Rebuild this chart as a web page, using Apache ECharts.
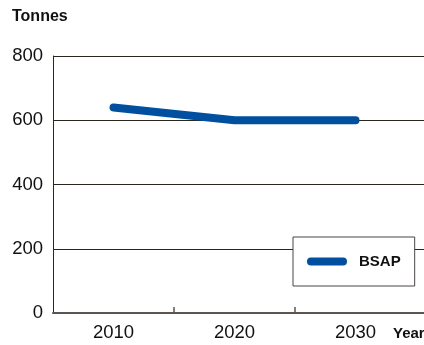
<!DOCTYPE html>
<html>
<head>
<meta charset="utf-8">
<script src="https://cdn.jsdelivr.net/npm/echarts@6/dist/echarts.min.js"></script>
<style>
html,body{margin:0;padding:0;background:#fff;}
#chart{width:424px;height:345px;}
</style>
</head>
<body>
<div id="chart"></div>
<script>
var years = [2010, 2020, 2030];
var bsap = [640, 600, 600];
var yTicks = [0, 200, 400, 600, 800];
var seriesName = 'BSAP';
var yTitle = 'Tonnes';
var xTitle = 'Year';

var chart = echarts.init(document.getElementById('chart'), null, {renderer: 'canvas'});
var font = '"Liberation Sans", Arial, Helvetica, sans-serif';
var option = {
  animation: false,
  backgroundColor: '#ffffff',
  grid: {left: 53, right: 0, top: 56, bottom: 32, containLabel: false},
  xAxis: {
    type: 'value',
    min: 2005,
    max: 2035.66,
    splitLine: {show: false},
    axisLine: {show: true, lineStyle: {color: '#5a5550', width: 2}},
    axisTick: {show: true, inside: true, length: 6, customValues: [2015, 2025], lineStyle: {color: '#5a5550', width: 1.5}},
    axisLabel: {
      customValues: years,
      formatter: function (v) { return String(v); },
      color: '#111', fontSize: 18.5, fontFamily: font, margin: 10
    }
  },
  yAxis: {
    type: 'value',
    min: yTicks[0],
    max: yTicks[yTicks.length - 1],
    interval: 200,
    axisLine: {show: true, lineStyle: {color: '#2b2520', width: 1}},
    axisTick: {show: false},
    splitLine: {show: true, lineStyle: {color: '#2b2520', width: 1}},
    axisLabel: {color: '#111', fontSize: 18.5, fontFamily: font, margin: 10, padding: [0, 0, 14, 0]}
  },
  legend: {
    show: true,
    left: 293,
    top: 237,
    orient: 'horizontal',
    backgroundColor: '#ffffff',
    borderColor: '#4a4540',
    borderWidth: 1,
    padding: [17, 14, 17, 14],
    itemWidth: 40,
    itemHeight: 8,
    icon: 'path://M4,0 L36,0 A4,4 0 0 1 36,8 L4,8 A4,4 0 0 1 4,0 Z',
    textStyle: {fontSize: 15, fontWeight: 'bold', color: '#111', fontFamily: font, padding: [0, 0, 0, 7]},
    data: [seriesName]
  },
  graphic: [
    {type: 'text', left: 12, top: 9, style: {text: yTitle, fontSize: 16, fontWeight: 'bold', fill: '#111', fontFamily: font}},
    {type: 'text', left: 393, top: 326, style: {text: xTitle, fontSize: 15, fontWeight: 'bold', fill: '#111', fontFamily: font}}
  ],
  series: [{
    name: seriesName,
    type: 'line',
    symbol: 'none',
    data: years.map(function (y, i) { return [y, bsap[i]]; }),
    itemStyle: {color: '#0050a0'},
    lineStyle: {color: '#0050a0', width: 8, cap: 'round', join: 'round'}
  }]
};
chart.setOption(option);
</script>
</body>
</html>
